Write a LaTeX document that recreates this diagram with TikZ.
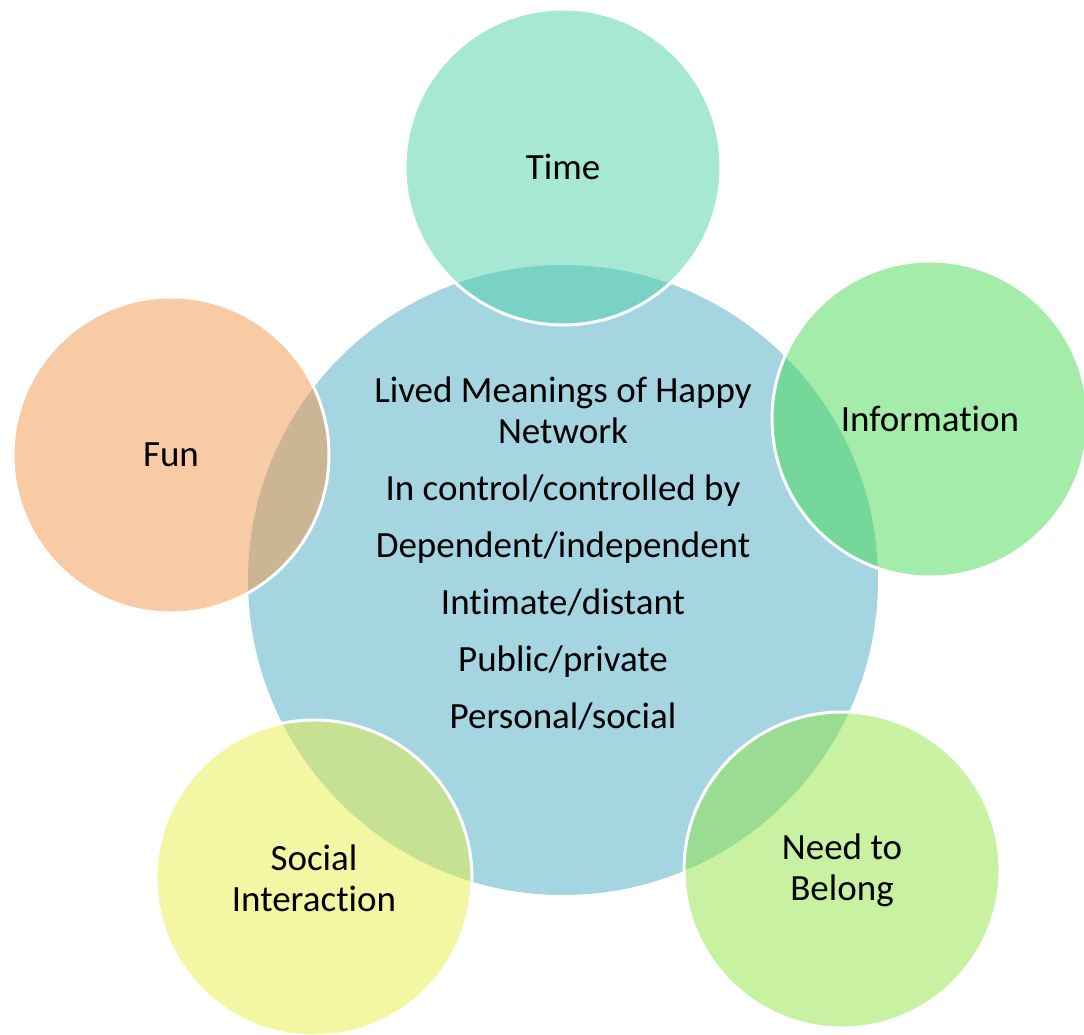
\documentclass[tikz,border=0pt]{standalone}
\usepackage{fontspec}
\setmainfont[RawFeature={-liga;-clig;-calt}]{Carlito}
\definecolor{hubblue}{RGB}{166,213,226}
\definecolor{timec}{RGB}{77,209,167}
\definecolor{infoc}{RGB}{71,217,83}
\definecolor{func}{RGB}{243,151,73}
\definecolor{socc}{RGB}{231,237,69}
\definecolor{needc}{RGB}{145,227,69}
\tikzset{
  hub/.style={circle, fill=hubblue, minimum size=630pt, inner sep=0pt},
  sat/.style={circle, fill=#1, fill opacity=0.5, text opacity=1, draw=white, draw opacity=1,
    line width=3pt, minimum size=316pt, inner sep=0pt, align=center,
    font=\fontsize{37}{41}\selectfont},
  hubtext/.style={align=center, font=\fontsize{37}{41}\selectfont}
}
\begin{document}
\begin{tikzpicture}[x=1pt,y=-1pt]
\useasboundingbox (0,0) rectangle (1084,1034);
\node[hub] (hub) at (563,580) {};
\node[hubtext] (hubtxt) at (563,553) {Lived Meanings of Happy\\Network\\[16pt]In control/controlled by\\[16pt]Dependent/independent\\[16pt]Intimate/distant\\[16pt]Public/private\\[16pt]Personal/social};
\node[sat=timec] (time) at (563,167) {Time};
\node[sat=infoc] (info) at (930,419) {Information};
\node[sat=func] (fun) at (171,455) {Fun};
\node[sat=socc] (social) at (314,878) {Social\\Interaction};
\node[sat=needc] (need) at (842,870) {Need to\\Belong};
\end{tikzpicture}
\end{document}
